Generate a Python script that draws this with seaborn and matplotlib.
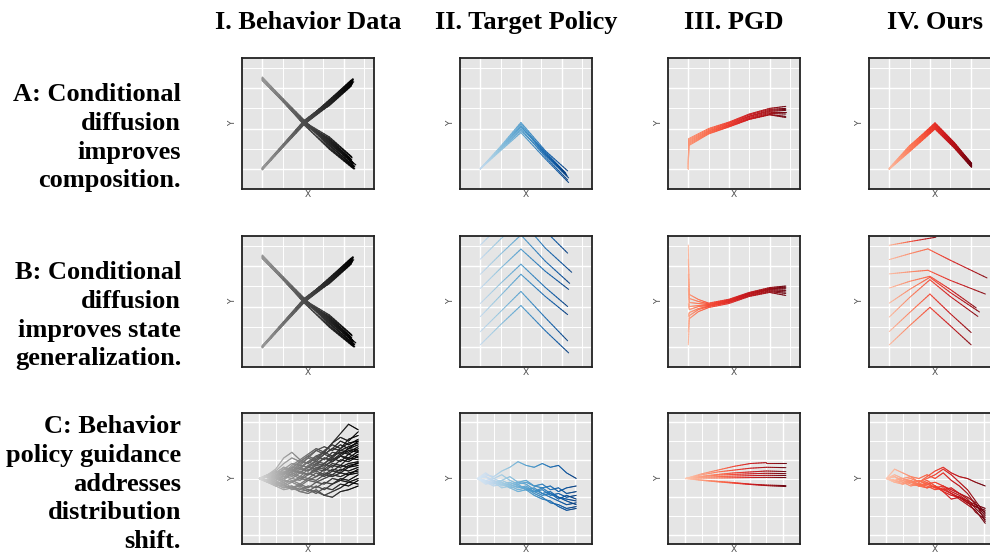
import numpy as np
import matplotlib
matplotlib.use("Agg")
import matplotlib.pyplot as plt
from matplotlib.collections import LineCollection
import seaborn as sns

sns.set_theme(style="darkgrid")
plt.rcParams["font.family"] = ["Liberation Serif", "DejaVu Serif"]
plt.rcParams["text.color"] = "black"

# ---------------------------------------------------------------- text
COL_TITLES = ["I. Behavior Data", "II. Target Policy", "III. PGD", "IV. Ours"]
ROW_LABELS = [
    ["A: Conditional", "diffusion", "improves", "composition."],
    ["B: Conditional", "diffusion", "improves state", "generalization."],
    ["C: Behavior", "policy guidance", "addresses", "distribution", "shift."],
]

# ---------------------------------------------------------------- rows A/B, behaviour data (X shape)
CROSS_X = 2.06
MID_X = 3.3
# bundle running from upper-left to lower-right
DESC_START_Y = [4.40, 4.50, 4.46, 4.54, 4.38, 4.47, 4.43, 4.52, 4.41, 4.46, 4.49, 4.42, 4.55, 4.45, 4.48, 4.39]
DESC_CROSS_Y = [2.25, 2.35, 2.20, 2.40, 2.30, 2.24, 2.36, 2.18, 2.31, 2.42, 2.22, 2.33, 2.28, 2.38, 2.20, 2.30]
DESC_MID_Y = [1.30, 1.18, 1.45, 1.08, 1.35, 1.52, 1.25, 1.02, 1.42, 1.15, 1.30, 1.58, 1.20, 1.36, 0.98, 1.47]
DESC_END_X = [4.45, 4.50, 4.40, 4.55, 4.48, 4.42, 4.60, 4.50, 4.38, 4.52, 4.46, 4.40, 4.55, 4.44, 4.50, 4.35]
DESC_END_Y = [0.30, 0.10, 0.45, 0.00, 0.25, 0.55, 0.20, 0.05, 0.40, 0.15, 0.30, 0.60, 0.10, 0.35, 0.00, 0.50]
# bundle running from lower-left to upper-right
UP_START_Y = [0.00, 0.04, -0.04, 0.02, -0.02, 0.05, 0.00, -0.05, 0.03, 0.01, -0.03, 0.02, 0.05, -0.02, 0.00, 0.03]
UP_CROSS_Y = [2.28, 2.36, 2.22, 2.32, 2.26, 2.40, 2.20, 2.30, 2.34, 2.25, 2.38, 2.30, 2.23, 2.33, 2.27, 2.37]
UP_MID_Y = [3.28, 3.36, 3.16, 3.40, 3.24, 3.32, 3.20, 3.42, 3.27, 3.34, 3.14, 3.38, 3.22, 3.30, 3.25, 3.35]
UP_END_X = [4.40, 4.45, 4.38, 4.48, 4.42, 4.50, 4.36, 4.46, 4.41, 4.44, 4.39, 4.47, 4.43, 4.40, 4.45, 4.37]
UP_END_Y = [4.28, 4.36, 4.15, 4.44, 4.24, 4.32, 4.18, 4.47, 4.27, 4.37, 4.12, 4.41, 4.21, 4.30, 4.26, 4.39]

# ---------------------------------------------------------------- row A, target policy (single chevron)
TA_X = [0.0, 1.0, 2.0, 3.2]
TA_ASC_Y = [1.12, 1.08, 1.05, 1.02, 0.98, 0.95, 0.90, 1.04]
TA_PEAK_Y = [2.30, 2.22, 2.14, 2.06, 1.98, 1.90, 1.80, 2.10]
TA_DESC_Y = [0.90, 0.80, 0.70, 0.85, 0.60, 0.70, 0.50, 0.75]
TA_END_X = [4.30, 4.25, 4.35, 4.20, 4.30, 4.28, 4.35, 4.22]
TA_END_Y = [-0.10, -0.30, -0.45, -0.20, -0.55, -0.35, -0.68, -0.25]

# ---------------------------------------------------------------- row B, target policy (stacked chevrons)
TB_X = [0.0, 1.0, 2.0, 3.2]
TB_START_Y = [0.10, 0.75, 1.50, 2.15, 2.90, 3.60, 4.35, 5.05]
TB_ASC_Y = [1.10, 1.75, 2.55, 3.15, 3.90, 4.60, 5.35, 6.05]
TB_PEAK_Y = [2.05, 2.75, 3.60, 4.10, 4.85, 5.55, 6.30, 7.00]
TB_DESC_Y = [0.80, 1.45, 2.50, 2.95, 3.75, 4.25, 4.90, 5.75]
TB_END_X = [4.35, 4.30, 4.30, 4.30, 4.35, 4.40, 4.50, 4.30]
TB_END_Y = [-0.30, 0.30, 1.60, 2.00, 2.85, 3.15, 3.70, 4.65]

# ---------------------------------------------------------------- row A, PGD
PA_X = [0.0, 0.02, 1.0, 2.0, 3.0, 4.0, 4.8]
PA_Y = [
    [0.0, 1.50, 2.00, 2.32, 2.72, 3.00, 3.10],
    [0.0, 1.45, 1.95, 2.28, 2.68, 2.95, 3.00],
    [0.0, 1.40, 1.90, 2.25, 2.62, 2.90, 2.95],
    [0.0, 1.35, 1.87, 2.20, 2.60, 2.85, 2.90],
    [0.0, 1.30, 1.83, 2.17, 2.55, 2.80, 2.80],
    [0.0, 1.25, 1.80, 2.14, 2.50, 2.75, 2.72],
    [0.0, 1.20, 1.76, 2.10, 2.47, 2.70, 2.60],
    [0.0, 1.15, 1.73, 2.08, 2.45, 2.68, 2.55],
]

# ---------------------------------------------------------------- row B, PGD
PB_X = [0.0, 0.05, 0.5, 1.0, 2.0, 3.0, 4.0, 4.8]
PB_Y = [
    [0.10, 1.40, 1.75, 1.95, 2.15, 2.50, 2.70, 2.55],
    [0.75, 1.55, 1.85, 2.00, 2.20, 2.53, 2.74, 2.65],
    [1.50, 1.70, 1.90, 2.02, 2.22, 2.56, 2.78, 2.72],
    [2.15, 1.85, 2.00, 2.05, 2.25, 2.60, 2.82, 2.80],
    [2.90, 2.00, 2.05, 2.08, 2.28, 2.62, 2.85, 2.88],
    [3.60, 2.20, 2.15, 2.10, 2.30, 2.65, 2.88, 2.93],
    [4.35, 2.40, 2.25, 2.13, 2.33, 2.67, 2.90, 2.97],
    [5.05, 2.60, 2.35, 2.17, 2.36, 2.70, 2.94, 3.02],
]

# ---------------------------------------------------------------- row A, ours
OA_X = [0.0, 1.0, 2.25, 3.2, 4.05]
OA_Y = [
    [0.00, 1.08, 2.25, 1.28, 0.24],
    [0.00, 0.95, 2.08, 1.12, 0.14],
    [0.02, 1.12, 2.28, 1.30, 0.26],
    [0.00, 0.88, 2.00, 1.06, 0.10],
    [0.03, 1.15, 2.20, 1.24, 0.28],
    [0.00, 0.98, 2.12, 1.18, 0.18],
    [-0.02, 1.04, 2.17, 1.21, 0.20],
    [0.00, 0.92, 2.04, 1.10, 0.12],
    [0.01, 1.00, 2.14, 1.16, 0.16],
    [-0.01, 0.86, 1.98, 1.04, 0.08],
]

# ---------------------------------------------------------------- row B, ours
OB_X = [
    [0.0, 1.0, 2.29],
    [0.0, 1.0, 1.9, 3.0, 4.81],
    [0.0, 1.0, 1.9, 3.0, 4.73],
    [0.0, 1.0, 2.0, 3.0, 4.28],
    [0.0, 1.0, 2.0, 3.0, 4.44],
    [0.0, 1.0, 2.0, 3.0, 4.36],
    [0.0, 1.0, 2.0, 3.0, 4.03],
    [0.0, 1.0, 2.0, 3.0, 4.03],
]
OB_Y = [
    [5.04, 5.22, 5.44],
    [4.33, 4.62, 4.86, 4.30, 3.42],
    [3.62, 3.72, 3.80, 3.30, 2.62],
    [2.92, 3.25, 3.50, 2.85, 1.93],
    [2.17, 2.85, 3.45, 2.70, 1.73],
    [1.48, 2.45, 3.33, 2.50, 1.51],
    [0.76, 1.70, 2.62, 1.65, 0.71],
    [0.10, 1.05, 1.96, 1.05, 0.10],
]

# ---------------------------------------------------------------- row C, stochastic rollouts
ROWC_X = [0.0, 0.5, 1.0, 1.5, 2.0, 2.5, 3.0, 3.5, 4.0, 4.5, 5.0, 5.5, 6.1]
BEHAVIOR_C = [
    [3.0, 3.1, 3.3, 3.2, 3.6, 3.9, 3.8, 4.2, 4.4, 4.9, 5.4, 5.9, 5.6],
    [3.0, 3.2, 3.5, 4.1, 4.4, 4.0, 4.3, 4.6, 4.4, 4.9, 5.2, 5.0, 5.5],
    [3.0, 2.9, 3.3, 3.6, 3.5, 3.9, 4.2, 4.0, 4.5, 4.8, 4.6, 5.1, 5.3],
    [3.0, 3.2, 3.1, 3.5, 3.8, 3.7, 4.1, 4.5, 4.3, 4.6, 5.0, 4.8, 5.1],
    [3.0, 3.1, 3.4, 3.3, 3.7, 4.0, 3.8, 4.1, 4.4, 4.2, 4.6, 4.9, 5.0],
    [3.0, 2.9, 3.2, 3.5, 3.4, 3.8, 4.1, 3.9, 4.3, 4.6, 4.5, 4.7, 4.9],
    [3.0, 3.2, 3.0, 3.3, 3.6, 3.5, 3.9, 4.2, 4.0, 4.4, 4.3, 4.6, 4.8],
    [3.0, 3.1, 3.3, 3.6, 3.4, 3.7, 3.6, 4.0, 4.3, 4.1, 4.5, 4.4, 4.7],
    [3.0, 2.8, 3.1, 3.0, 3.4, 3.3, 3.7, 3.9, 3.8, 4.2, 4.4, 4.3, 4.6],
    [3.0, 3.2, 3.1, 3.4, 3.3, 3.6, 3.9, 3.7, 4.1, 4.0, 4.3, 4.6, 4.5],
    [3.0, 3.1, 2.9, 3.2, 3.5, 3.3, 3.6, 3.8, 4.1, 3.9, 4.2, 4.1, 4.45],
    [3.0, 2.9, 3.2, 3.1, 3.4, 3.6, 3.4, 3.7, 3.6, 4.0, 4.2, 4.5, 4.4],
    [3.0, 3.1, 3.0, 3.3, 3.2, 3.5, 3.4, 3.8, 3.7, 3.9, 4.2, 4.0, 4.3],
    [3.0, 2.8, 3.0, 2.9, 3.3, 3.1, 3.5, 3.4, 3.8, 3.6, 4.0, 3.9, 4.2],
    [3.0, 3.2, 3.4, 3.2, 3.5, 3.3, 3.6, 3.5, 3.8, 4.1, 3.9, 4.3, 4.1],
    [3.0, 2.9, 3.1, 3.3, 3.1, 3.4, 3.2, 3.6, 3.5, 3.8, 3.7, 4.1, 4.0],
    [3.0, 3.1, 2.9, 3.1, 3.0, 3.3, 3.2, 3.5, 3.4, 3.7, 3.6, 3.8, 3.9],
    [3.0, 2.9, 2.8, 3.0, 3.2, 3.0, 3.3, 3.1, 3.5, 3.4, 3.7, 3.6, 3.85],
    [3.0, 3.1, 3.0, 2.8, 3.0, 2.9, 3.2, 3.4, 3.2, 3.5, 3.4, 3.7, 3.8],
    [3.0, 2.9, 3.1, 2.9, 2.8, 3.1, 3.0, 3.3, 3.1, 3.4, 3.3, 3.6, 3.7],
    [3.0, 2.8, 2.7, 2.9, 2.8, 3.0, 2.9, 3.1, 3.3, 3.2, 3.5, 3.4, 3.6],
    [3.0, 3.0, 2.8, 2.7, 2.9, 2.7, 3.0, 2.9, 3.2, 3.1, 3.3, 3.2, 3.5],
    [3.0, 2.9, 2.7, 2.6, 2.8, 2.6, 2.9, 2.8, 3.0, 3.2, 3.1, 3.3, 3.4],
    [3.0, 2.8, 2.9, 2.6, 2.5, 2.7, 2.5, 2.8, 2.7, 3.0, 2.9, 3.2, 3.3],
    [3.0, 2.9, 2.7, 2.5, 2.6, 2.4, 2.6, 2.5, 2.8, 2.7, 3.0, 2.9, 3.2],
    [3.0, 2.8, 2.6, 2.7, 2.4, 2.5, 2.3, 2.6, 2.4, 2.7, 2.9, 2.8, 3.0],
    [3.0, 2.9, 2.7, 2.5, 2.6, 2.3, 2.4, 2.2, 2.5, 2.4, 2.7, 2.6, 2.9],
    [3.0, 2.8, 2.6, 2.4, 2.5, 2.3, 2.2, 2.4, 2.1, 2.3, 2.5, 2.8, 2.7],
    [3.0, 2.9, 2.7, 2.8, 2.5, 2.6, 2.4, 2.3, 2.1, 2.0, 2.3, 2.4, 2.6],
    [3.0, 3.1, 3.4, 3.8, 4.1, 3.9, 4.2, 4.5, 4.7, 4.5, 4.8, 4.6, 5.0],
]
TARGET_C = [
    [3.0, 3.2, 3.1, 3.4, 3.6, 3.9, 3.7, 3.6, 3.8, 3.6, 3.7, 3.3, 3.0],
    [3.0, 3.3, 3.0, 3.2, 2.9, 2.7, 2.8, 2.6, 2.5, 2.6, 2.3, 2.5, 2.6],
    [3.0, 2.8, 2.9, 2.6, 2.7, 2.5, 2.6, 2.3, 2.4, 2.1, 2.2, 2.0, 2.1],
    [3.0, 2.9, 2.7, 2.8, 2.5, 2.6, 2.4, 2.5, 2.2, 2.0, 1.8, 1.6, 1.7],
    [3.0, 3.1, 2.8, 2.9, 3.1, 2.8, 2.7, 2.4, 2.2, 2.3, 2.0, 1.9, 1.8],
    [3.0, 2.7, 2.8, 2.5, 2.6, 2.4, 2.5, 2.2, 2.0, 1.7, 1.6, 1.4, 1.5],
    [3.0, 2.8, 2.6, 2.7, 2.5, 2.3, 2.4, 2.1, 1.9, 1.8, 1.5, 1.3, 1.4],
    [3.0, 3.1, 2.9, 2.7, 2.8, 2.6, 2.5, 2.3, 2.1, 2.2, 1.9, 2.1, 1.9],
    [3.0, 2.9, 3.0, 2.8, 2.6, 2.7, 2.4, 2.3, 2.5, 2.2, 2.0, 1.8, 1.6],
    [3.0, 2.8, 2.7, 2.9, 2.7, 2.8, 2.9, 2.6, 2.7, 2.4, 2.5, 2.2, 2.3],
]
PGD_C_X = [0.0, 1.0, 2.0, 3.0, 4.0, 5.0, 6.2]
PGD_C = [
    [3.0, 3.25, 3.45, 3.65, 3.80, 3.85, 3.85],
    [3.0, 3.20, 3.35, 3.45, 3.55, 3.60, 3.58],
    [3.0, 3.12, 3.22, 3.30, 3.35, 3.40, 3.37],
    [3.0, 3.10, 3.18, 3.22, 3.25, 3.28, 3.26],
    [3.0, 3.06, 3.10, 3.13, 3.15, 3.17, 3.16],
    [3.0, 3.02, 3.03, 3.04, 3.05, 3.06, 3.05],
    [3.0, 2.92, 2.85, 2.78, 2.70, 2.65, 2.62],
    [3.0, 2.90, 2.82, 2.75, 2.68, 2.62, 2.57],
]
OURS_C = [
    [3.0, 3.1, 2.9, 3.0, 2.8, 3.1, 3.4, 3.6, 3.3, 3.1, 3.0, 2.8, 2.6],
    [3.0, 3.5, 3.3, 3.1, 3.0, 3.2, 3.0, 3.3, 2.9, 2.6, 2.2, 1.6, 1.0],
    [3.0, 2.9, 3.0, 2.8, 2.9, 2.7, 2.8, 2.6, 2.4, 2.2, 1.9, 1.4, 0.9],
    [3.0, 2.8, 2.9, 2.7, 2.6, 2.8, 2.5, 2.4, 2.2, 1.9, 1.6, 1.3, 0.6],
    [3.0, 2.9, 2.7, 2.8, 2.6, 2.5, 2.6, 2.3, 2.1, 2.0, 1.7, 1.5, 1.2],
    [3.0, 3.1, 2.8, 2.9, 2.7, 2.6, 2.4, 2.5, 2.2, 2.0, 1.8, 1.2, 0.8],
    [3.0, 2.9, 3.0, 2.8, 2.7, 2.9, 2.6, 2.3, 1.9, 2.0, 1.7, 1.5, 1.3],
    [3.0, 3.2, 3.0, 3.1, 2.8, 3.0, 3.2, 3.5, 3.2, 2.8, 2.4, 1.8, 1.1],
    [3.0, 2.8, 2.7, 2.9, 2.6, 2.7, 2.5, 2.6, 2.3, 2.1, 1.8, 1.6, 1.4],
    [3.0, 2.9, 2.8, 2.6, 2.7, 2.5, 2.6, 2.4, 2.5, 2.2, 2.0, 1.7, 0.7],
]

# ---------------------------------------------------------------- assemble trajectories per panel
x_bundle = []
for s, c, m, ex, ey in zip(DESC_START_Y, DESC_CROSS_Y, DESC_MID_Y, DESC_END_X, DESC_END_Y):
    x_bundle.append(([0.0, CROSS_X, MID_X, ex], [s, c, m, ey]))
for s, c, m, ex, ey in zip(UP_START_Y, UP_CROSS_Y, UP_MID_Y, UP_END_X, UP_END_Y):
    x_bundle.append(([0.0, CROSS_X, MID_X, ex], [s, c, m, ey]))

target_a = [(TA_X + [ex], [0.0, a, p, d, ey])
            for a, p, d, ex, ey in zip(TA_ASC_Y, TA_PEAK_Y, TA_DESC_Y, TA_END_X, TA_END_Y)]
target_b = [(TB_X + [ex], [s, a, p, d, ey])
            for s, a, p, d, ex, ey in zip(TB_START_Y, TB_ASC_Y, TB_PEAK_Y, TB_DESC_Y, TB_END_X, TB_END_Y)]
pgd_a = [(PA_X, y) for y in PA_Y]
pgd_b = [(PB_X, y) for y in PB_Y]
ours_a = [(OA_X, y) for y in OA_Y]
ours_b = [(x, y) for x, y in zip(OB_X, OB_Y)]
behavior_c = [(ROWC_X, y) for y in BEHAVIOR_C]
target_c = [(ROWC_X, y) for y in TARGET_C]
pgd_c = [(PGD_C_X, y) for y in PGD_C]
ours_c = [(ROWC_X, y) for y in OURS_C]

GRAYS = sns.blend_palette(["#ffffff", "#000000"], as_cmap=True)
BLUES = sns.color_palette("Blues", as_cmap=True)
REDS = sns.color_palette("Reds", as_cmap=True)

# (trajectories, colormap, ramp start, ramp end, colour by arc length?, line width)
PANELS = [
    [(x_bundle, GRAYS, 0.40, 1.0, True, 0.9), (target_a, BLUES, 0.25, 0.95, True, 0.75),
     (pgd_a, REDS, 0.25, 1.0, False, 0.75), (ours_a, REDS, 0.25, 1.0, True, 0.9)],
    [(x_bundle, GRAYS, 0.40, 1.0, True, 0.9), (target_b, BLUES, 0.25, 0.95, True, 0.75),
     (pgd_b, REDS, 0.25, 1.0, False, 0.75), (ours_b, REDS, 0.25, 0.95, True, 0.75)],
    [(behavior_c, GRAYS, 0.15, 1.0, False, 0.8), (target_c, BLUES, 0.15, 0.95, False, 0.75),
     (pgd_c, REDS, 0.2, 1.0, False, 0.75), (ours_c, REDS, 0.2, 1.0, False, 0.75)],
]


def gradient_line(ax, x, y, cmap, lo, hi, by_length, lw, alpha=0.95, n=10):
    """Draw one trajectory whose colour darkens along its course."""
    x = np.asarray(x, float)
    y = np.asarray(y, float)
    frac = np.arange(n) / n
    xs = np.concatenate([x[i] + (x[i + 1] - x[i]) * frac for i in range(len(x) - 1)] + [x[-1:]])
    ys = np.concatenate([y[i] + (y[i + 1] - y[i]) * frac for i in range(len(y) - 1)] + [y[-1:]])
    pts = np.column_stack([xs, ys])
    segs = np.stack([pts[:-1], pts[1:]], axis=1)
    if by_length:
        seg_len = np.hypot(np.diff(xs), np.diff(ys))
        prog = (np.cumsum(seg_len) - seg_len / 2) / seg_len.sum()
    else:
        prog = (np.arange(len(segs)) + 0.5) / len(segs)
    colors = cmap(lo + (hi - lo) * prog)
    lc = LineCollection(segs, colors=colors, linewidths=lw, alpha=alpha, capstyle="round")
    ax.add_collection(lc)


# ---------------------------------------------------------------- layout (pixels of a 990 x 552 canvas)
W, H = 990, 552
fig = plt.figure(figsize=(W / 100, H / 100), dpi=100)
COL_LEFT = [242, 460, 668, 869]
ROW_TOP = [58, 236, 413]
PW, PH = 132, 131

for r in range(3):
    for c in range(4):
        ax = fig.add_axes([COL_LEFT[c] / W, 1 - (ROW_TOP[r] + PH) / H, PW / W, PH / H])
        ax.set_facecolor("#e5e5e5")
        if r < 2:
            ax.set_xlim(-1.0, 5.5)
            ax.set_ylim(-1.0, 5.5)
            ax.set_xticks([0, 2, 4])
            ax.set_xticks([1, 3, 5], minor=True)
            ax.set_yticks([0, 2, 4])
            ax.set_yticks([1, 3, 5], minor=True)
        else:
            ax.set_xlim(-1.08, 7.07)
            ax.set_ylim(-0.5, 6.5)
            ax.set_xticks([0, 2, 4, 6])
            ax.set_xticks([1, 3, 5], minor=True)
            ax.set_yticks([0, 2, 4, 6])
            ax.set_yticks([1, 3, 5], minor=True)
        ax.grid(which="major", color="white", linewidth=1.0)
        ax.grid(which="minor", color="white", linewidth=0.7)
        ax.tick_params(which="both", length=0, labelbottom=False, labelleft=False)
        for sp in ax.spines.values():
            sp.set_visible(True)
            sp.set_color("#222222")
            sp.set_linewidth(1.3)
        ax.set_axisbelow(True)

        trajs, cmap, lo, hi, by_len, lw = PANELS[r][c]
        for tx, ty in trajs:
            gradient_line(ax, tx, ty, cmap, lo, hi, by_len, lw)

        ax.text(-0.075, 0.5, "Y", transform=ax.transAxes, rotation=90, ha="center", va="center",
                fontsize=6.5, color="#4d4d4d", family="DejaVu Sans")
        ax.text(0.5, -0.008, "X", transform=ax.transAxes, ha="center", va="top",
                fontsize=6.5, color="#4d4d4d", family="DejaVu Sans")

# column titles
for c, title in enumerate(COL_TITLES):
    cx = (COL_LEFT[c] + PW / 2) / W
    fig.text(cx, 1 - 29 / H, title, ha="center", va="baseline", fontsize=19,
             fontweight="bold", color="black")

# row descriptions, right aligned, one baseline per line
FIRST_BASELINE = [101, 279, 433]
LINE_STEP = 28.8
for r, lines in enumerate(ROW_LABELS):
    for k, line in enumerate(lines):
        y = FIRST_BASELINE[r] + k * LINE_STEP
        fig.text(181 / W, 1 - y / H, line, ha="right", va="baseline", fontsize=19,
                 fontweight="bold", color="black")

fig.savefig("out.png", dpi=100)
